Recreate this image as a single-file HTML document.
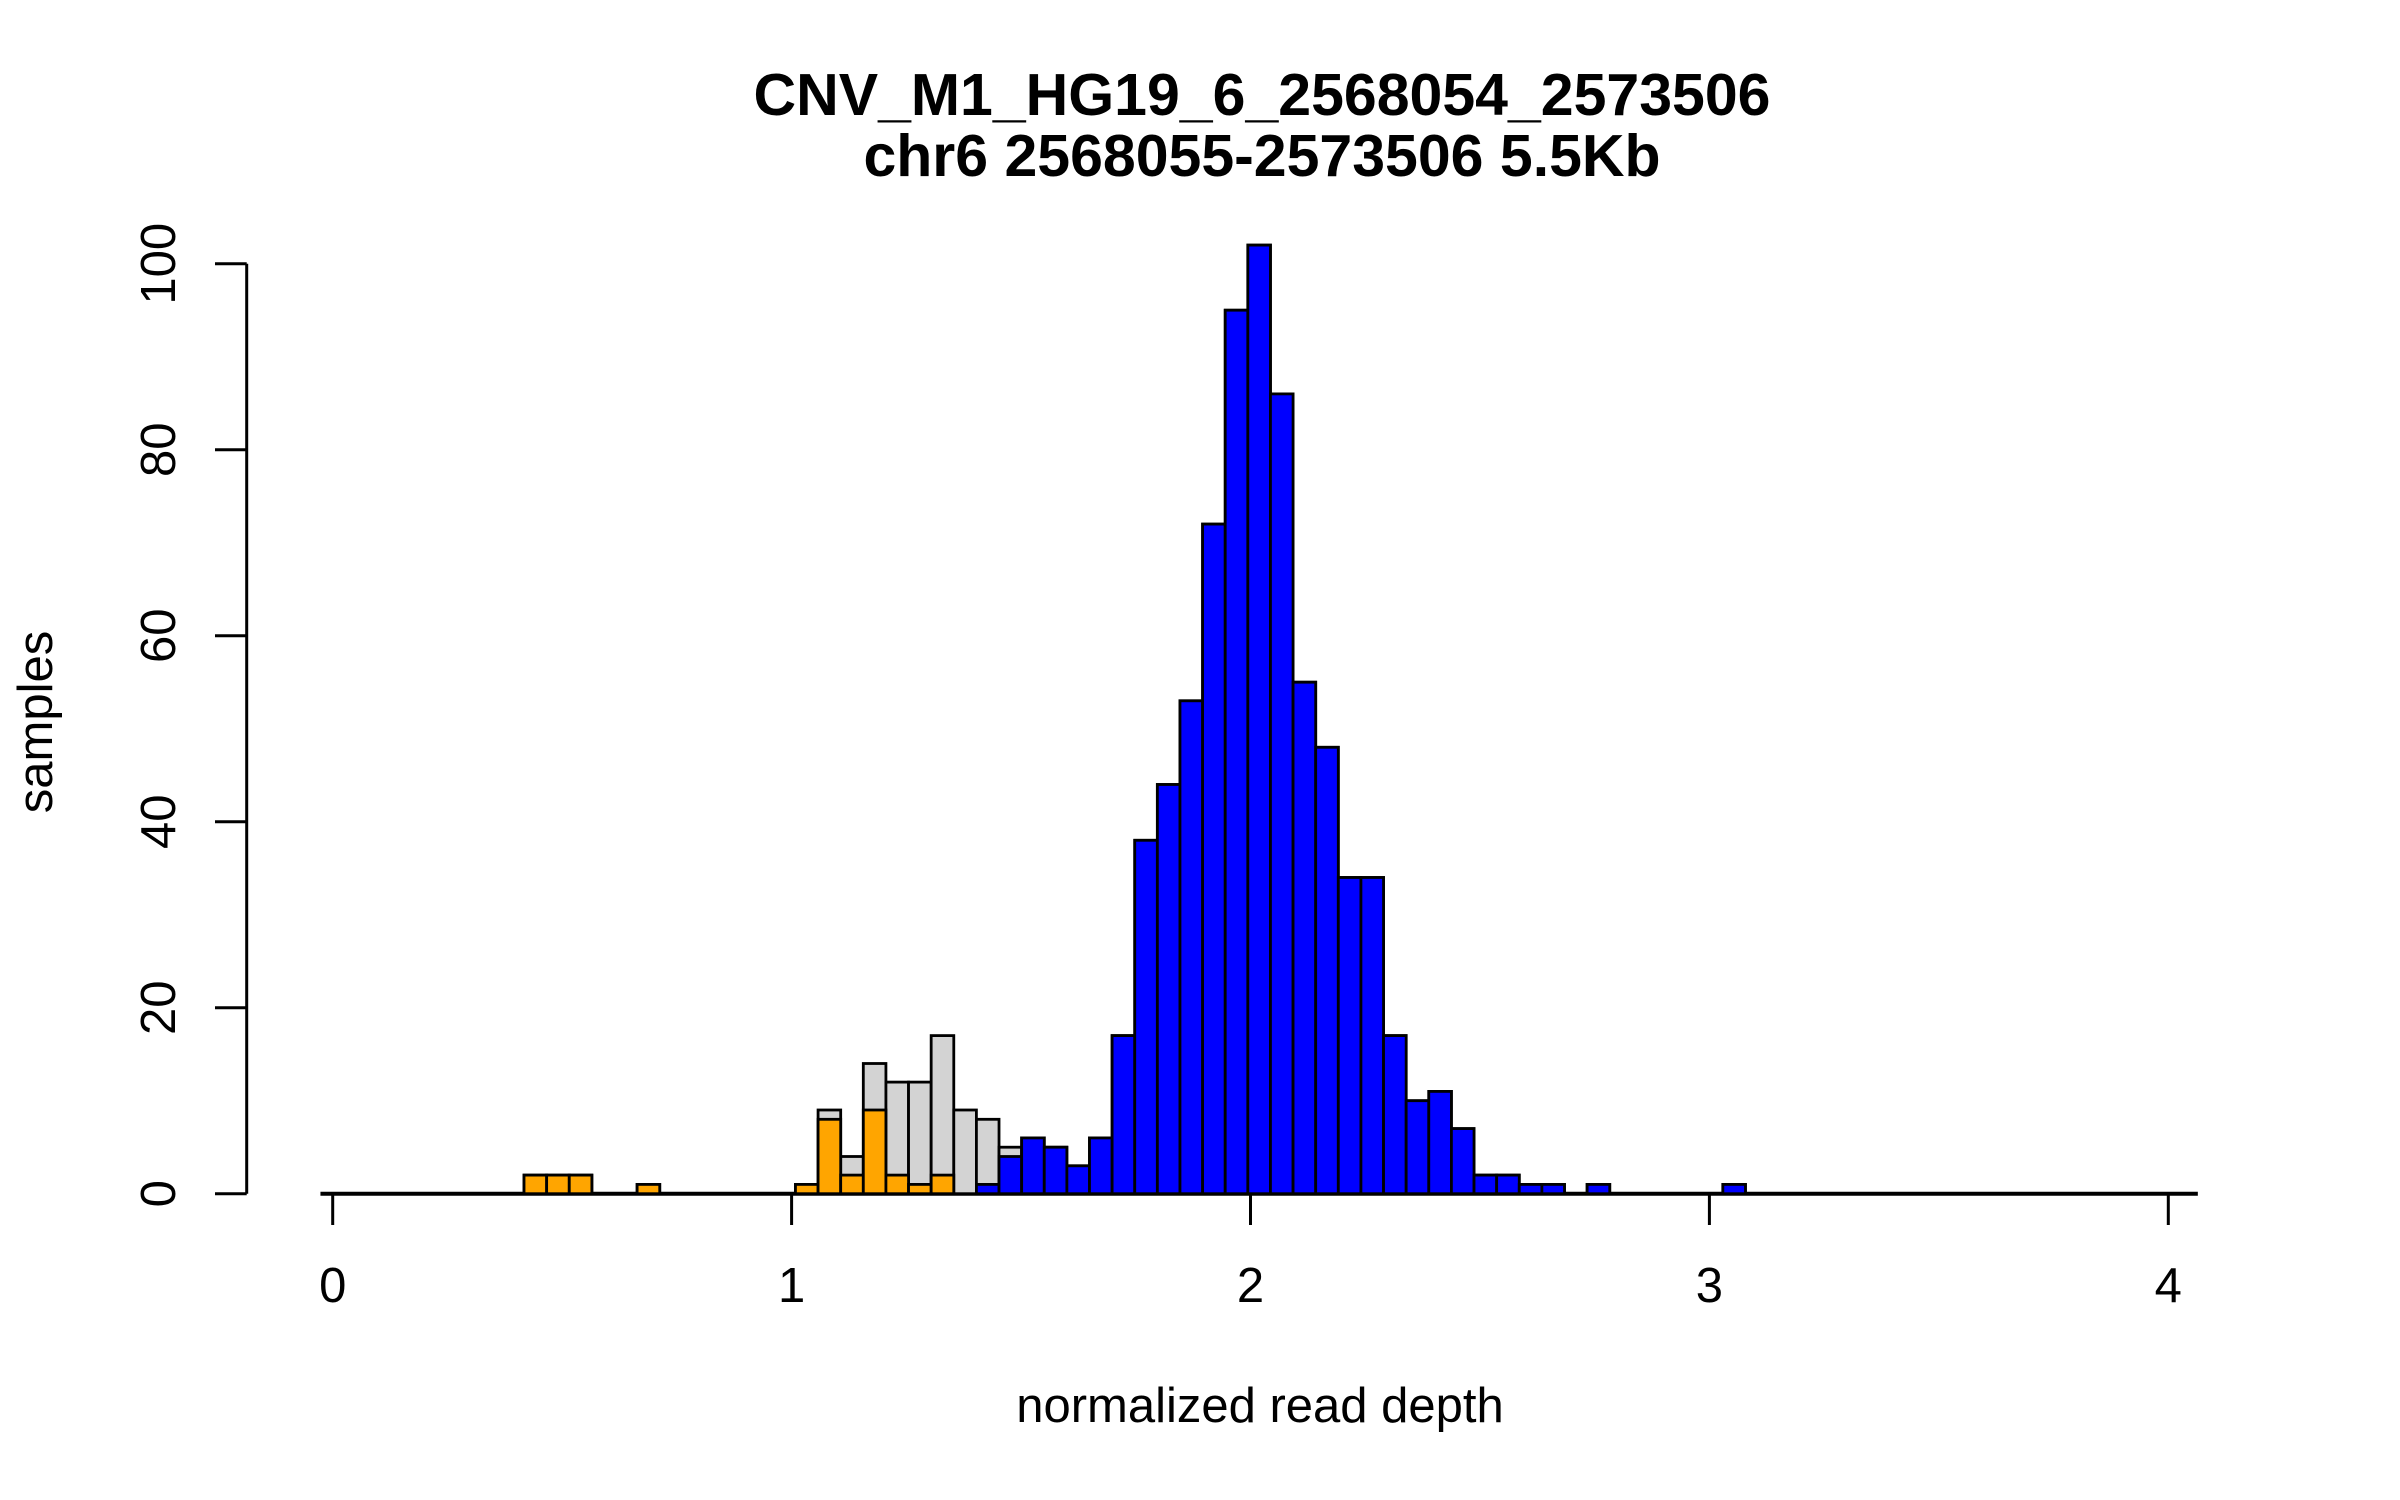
<!DOCTYPE html>
<html><head><meta charset="utf-8"><style>
html,body{margin:0;padding:0;background:#fff;}
svg{display:block;font-family:"Liberation Sans",Arial,sans-serif;}
</style></head><body>
<svg id="chart" width="2400" height="1500" viewBox="0 0 2400 1500" xmlns="http://www.w3.org/2000/svg">
<rect width="2400" height="1500" fill="#fff"/>
<text x="1262" y="115" text-anchor="middle" font-size="59" font-weight="bold">CNV_M1_HG19_6_2568054_2573506</text>
<text x="1262" y="176" text-anchor="middle" font-size="59" font-weight="bold">chr6 2568055-2573506 5.5Kb</text>
<text x="1260" y="1422" text-anchor="middle" font-size="49">normalized read depth</text>
<text transform="translate(52,722) rotate(-90)" text-anchor="middle" font-size="49">samples</text>
<g id="bars"></g>
<g id="axes"></g>
</svg>
<script>
// bin layout (data units): first break and bin width
const breakStart = -0.0267;
const binWidth = 0.04929;
// counts per bin (83 bins)
const totalCounts = [0,0,0,0,0,0,0,0,0,
 2,2,2,0,0,1,0,0,0,0,0,0,1,9,4,14,12,12,17,9,8,5,6,5,3,6,17,38,44,53,72,95,102,86,55,48,34,34,17,10,11,7,2,2,1,1,0,1,0,0,0,0,0,1,
 0,0,0,0,0,0,0,0,0,0,0,0,0,0,0,0,0,0,0,0];
const orangeCounts = [0,0,0,0,0,0,0,0,0,
 2,2,2,0,0,1,0,0,0,0,0,0,1,8,2,9,2,1,2,0,0,0,0,0,0,0,0,0,0,0,0,0,0,0,0,0,0,0,0,0,0,0,0,0,0,0,0,0,0,0,0,0,0,0,
 0,0,0,0,0,0,0,0,0,0,0,0,0,0,0,0,0,0,0,0];
const blueCounts = [0,0,0,0,0,0,0,0,0,
 0,0,0,0,0,0,0,0,0,0,0,0,0,0,0,0,0,0,0,0,1,4,6,5,3,6,17,38,44,53,72,95,102,86,55,48,34,34,17,10,11,7,2,2,1,1,0,1,0,0,0,0,0,1,
 0,0,0,0,0,0,0,0,0,0,0,0,0,0,0,0,0,0,0,0];
const xTicks = [0,1,2,3,4];
const xTickLabels = ["0","1","2","3","4"];
const yTicks = [0,20,40,60,80,100];
const yTickLabels = ["0","20","40","60","80","100"];

const NS = "http://www.w3.org/2000/svg";
const xScale = v => 332.7 + v * 458.9;
const yScale = v => 1193.7 - v * 9.3;
const barsG = document.getElementById('bars');
const axesG = document.getElementById('axes');

function mk(tag, attrs, parent){
  const el = document.createElementNS(NS, tag);
  for (const k in attrs) el.setAttribute(k, attrs[k]);
  parent.appendChild(el);
  return el;
}
// baseline spanning all breaks
const bl = mk('line', {x1: xScale(breakStart), x2: xScale(breakStart + totalCounts.length * binWidth), y1: yScale(0), y2: yScale(0), stroke: '#000', 'stroke-width': 4}, barsG);



function drawSeries(counts, fill, name){
  counts.forEach((c, i) => {
    if (c === 0) return;
    const x0 = xScale(breakStart + i * binWidth);
    const x1 = xScale(breakStart + (i + 1) * binWidth);
    const y = yScale(c);
    const r = mk('rect', {x: x0, y: y, width: x1 - x0, height: yScale(0) - y, fill: fill, stroke: '#000', 'stroke-width': 2.8}, barsG);
    
    
  });
}
drawSeries(totalCounts, '#d3d3d3', 'bar-total');
drawSeries(orangeCounts, '#ffa500', 'bar-orange');
drawSeries(blueCounts, '#0000ff', 'bar-blue');

// y axis
const ya = mk('line', {x1: 246.7, x2: 246.7, y1: yScale(yTicks[0]), y2: yScale(yTicks[yTicks.length-1]), stroke: '#000', 'stroke-width': 3}, axesG);


yTicks.forEach((t, i) => {
  const y = yScale(t);
  const tl = mk('line', {x1: 215, x2: 246.7, y1: y, y2: y, stroke: '#000', 'stroke-width': 3}, axesG);
  
  
  const tx = mk('text', {transform: `translate(175,${y}) rotate(-90)`, 'text-anchor': 'middle', 'font-size': 49}, axesG);
  tx.textContent = yTickLabels[i];
  
  
});
// x ticks
xTicks.forEach((t, i) => {
  const x = xScale(t);
  const tl = mk('line', {x1: x, x2: x, y1: 1193.7, y2: 1225, stroke: '#000', 'stroke-width': 3}, axesG);
  
  
  const tx = mk('text', {x: x, y: 1302, 'text-anchor': 'middle', 'font-size': 49}, axesG);
  tx.textContent = xTickLabels[i];
  
  
});
</script>
</body></html>
